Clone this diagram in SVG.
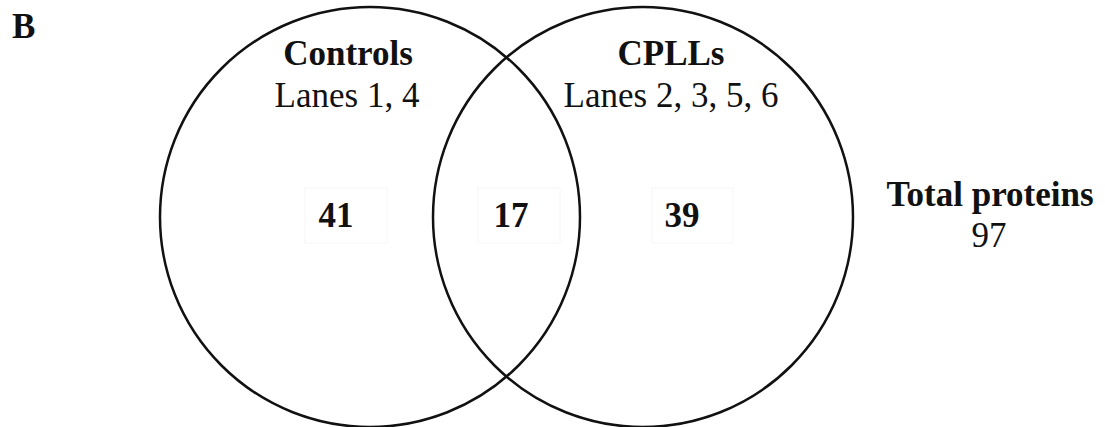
<svg xmlns="http://www.w3.org/2000/svg" width="1105" height="427" viewBox="0 0 1105 427">
  <style>
    .set { fill: none; stroke: #111; stroke-width: 2.5; }
    .t { font-family: "Liberation Serif", "Times New Roman", serif; font-size: 35px; fill: #111; text-anchor: middle; }
    .b { font-weight: bold; }
    .box { fill: none; stroke: #f6f6f6; stroke-width: 1; }
  </style>
  <rect width="1105" height="427" fill="#fff"/>
  <text class="t b" x="12" y="38" style="text-anchor:start">B</text>

  <g id="controls">
    <circle class="set" cx="370" cy="217" r="210"/>
    <text class="t b" x="348" y="65">Controls</text>
    <text class="t" x="347" y="107">Lanes 1, 4</text>
  </g>

  <g id="cplls">
    <circle class="set" cx="643" cy="217" r="210"/>
    <text class="t b" x="671" y="65">CPLLs</text>
    <text class="t" x="671" y="107">Lanes 2, 3, 5, 6</text>
  </g>

  <g id="only-controls">
    <rect class="box" x="305" y="188" width="82" height="55"/>
    <text class="t b" x="336" y="227">41</text>
  </g>

  <g id="shared">
    <rect class="box" x="478" y="188" width="82" height="55"/>
    <text class="t b" x="511" y="227">17</text>
  </g>

  <g id="only-cplls">
    <rect class="box" x="652" y="188" width="81" height="55"/>
    <text class="t b" x="682" y="227">39</text>
  </g>

  <g id="total">
    <text class="t b" x="990" y="206">Total proteins</text>
    <text class="t" x="989" y="247">97</text>
  </g>

  <g id="connectors"/>
</svg>
